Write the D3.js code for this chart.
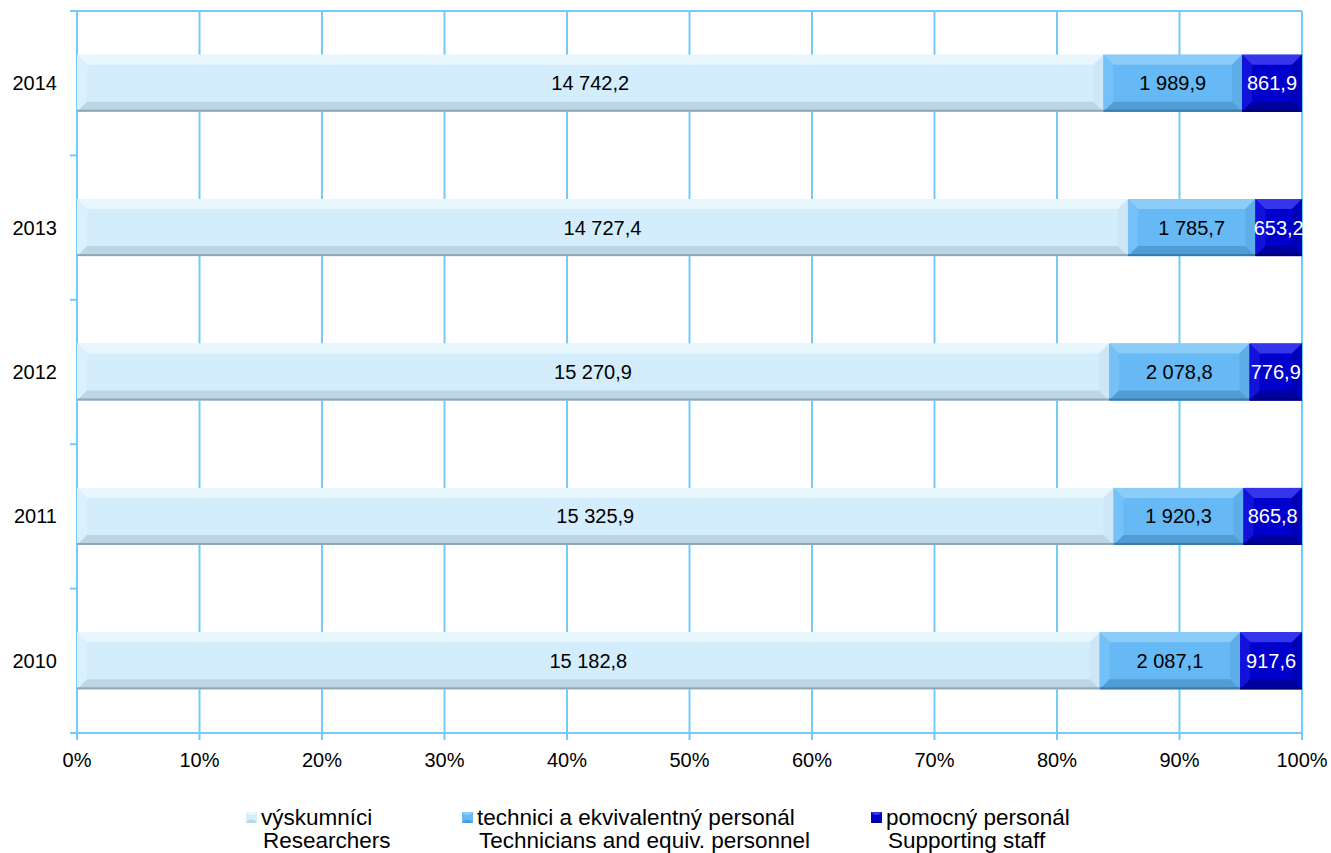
<!DOCTYPE html>
<html><head><meta charset="utf-8">
<script src="https://cdn.jsdelivr.net/npm/d3@7"></script>
<style>body{margin:0;background:#fff;}svg{display:block;font-family:"Liberation Sans",Arial,sans-serif;}</style>
</head><body><svg id="c" width="1331" height="853"></svg>
<script>
const years = ["2014","2013","2012","2011","2010"];
const researchers = [14742.2, 14727.4, 15270.9, 15325.9, 15182.8];
const technicians = [1989.9, 1785.7, 2078.8, 1920.3, 2087.1];
const supporting = [861.9, 653.2, 776.9, 865.8, 917.6];
const tickLabels = ["0%","10%","20%","30%","40%","50%","60%","70%","80%","90%","100%"];
const labelsCz = ["výskumníci","technici a ekvivalentný personál","pomocný personál"];
const labelsEn = ["Researchers","Technicians and equiv. personnel","Supporting staff"];

const series = [
  {vals: researchers, main:"#D3EDFC", top:"#E8F6FE", left:"#DAF0FD", bottom:"#BDD6E6", right:"#CDE7F6", edge:"#8FA6B5", text:"#000"},
  {vals: technicians, main:"#66B9F5", top:"#8CCCF9", left:"#74C1F7", bottom:"#509DD6", right:"#5DAEE8", edge:"#3A7AAE", text:"#000"},
  {vals: supporting, main:"#0000CC", top:"#3535EE", left:"#1212DA", bottom:"#0000A0", right:"#0000B8", edge:"#000070", text:"#fff"}
];

const svg = d3.select("#c");
const L = 77, R = 1302, T = 11, B = 733;
const x = d3.scaleLinear().domain([0,1]).range([L,R]);
const y = d3.scaleBand().domain(years).range([T,B]).paddingInner(0.605).paddingOuter(0.3025);
const yb = d3.scaleBand().domain(years).range([T,B]);
const gridColor = "#74CBFA";
const fmt = v => {
  const s = v.toFixed(1).replace(".", ",");
  const [i,d] = s.split(",");
  return i.replace(/\B(?=(\d{3})+(?!\d))/g, " ") + "," + d;
};

const g = svg.append("g");
g.selectAll("line.grid").data(d3.range(0,11)).join("line")
  .attr("x1", d=>x(d/10)).attr("x2", d=>x(d/10))
  .attr("y1", T).attr("y2", B+7)
  .attr("stroke", gridColor).attr("stroke-width", 2);
g.append("line").attr("x1", L-7).attr("x2", R).attr("y1", T).attr("y2", T).attr("stroke", gridColor).attr("stroke-width", 2);
g.append("line").attr("x1", L-7).attr("x2", R+1).attr("y1", B).attr("y2", B).attr("stroke", gridColor).attr("stroke-width", 2);
g.selectAll("line.yt").data(years.slice(1)).join("line")
  .attr("x1", L-7).attr("x2", L).attr("y1", d=>yb(d)).attr("y2", d=>yb(d))
  .attr("stroke", gridColor).attr("stroke-width", 2);

const bev = 10;
years.forEach((yr, i) => {
  const total = series.reduce((a,s)=>a+s.vals[i],0);
  let cum = 0;
  series.forEach(s => {
    const v = s.vals[i];
    const x0 = x(cum/total), x1 = x((cum+v)/total);
    cum += v;
    const y0 = y(yr), y1 = y0 + y.bandwidth();
    const bg = svg.append("g");
    const b = Math.min(bev, (x1-x0)/2);
    bg.append("rect").attr("x", x0).attr("y", y0).attr("width", x1-x0).attr("height", y1-y0).attr("fill", s.main);
    const poly = (pts, fill) => bg.append("polygon").attr("points", pts.map(p=>p.join(",")).join(" ")).attr("fill", fill);
    poly([[x0,y0],[x1,y0],[x1-b,y0+bev],[x0+b,y0+bev]], s.top);
    poly([[x0,y0],[x0+b,y0+bev],[x0+b,y1-bev],[x0,y1]], s.left);
    poly([[x1,y0],[x1,y1],[x1-b,y1-bev],[x1-b,y0+bev]], s.right);
    poly([[x0,y1],[x0+b,y1-bev],[x1-b,y1-bev],[x1,y1]], s.bottom);
    bg.append("rect").attr("x", x0).attr("y", y1-2).attr("width", x1-x0).attr("height", 2).attr("fill", s.edge);
    bg.append("text").attr("x", (x0+x1)/2).attr("y", (y0+y1)/2 + 7)
      .attr("text-anchor","middle").attr("font-size", 20).attr("fill", s.text).text(fmt(v));
  });
});

svg.selectAll("text.yl").data(years).join("text")
  .attr("x", 57).attr("y", d=>yb(d)+yb.bandwidth()/2+7)
  .attr("text-anchor","end").attr("font-size", 20).attr("fill","#000").text(d=>d);

svg.selectAll("text.xl").data(tickLabels).join("text")
  .attr("x", (d,i)=>x(i/10)).attr("y", 767)
  .attr("text-anchor","middle").attr("font-size", 20).attr("fill","#000").text(d=>d);

const legX = [246, 462, 871];
series.forEach((s,i) => {
  const lg = svg.append("g");
  const mx = legX[i], my = 812;
  lg.append("rect").attr("x", mx).attr("y", my).attr("width", 11).attr("height", 11).attr("fill", s.main);
  lg.append("polygon").attr("points", `${mx},${my} ${mx+11},${my} ${mx+8},${my+3} ${mx+3},${my+3}`).attr("fill", s.top);
  lg.append("polygon").attr("points", `${mx},${my+11} ${mx+11},${my+11} ${mx+8},${my+8} ${mx+3},${my+8}`).attr("fill", s.bottom);
  lg.append("text").attr("x", mx+15).attr("y", 825).attr("font-size", 22.5).attr("fill","#000").text(labelsCz[i]);
  lg.append("text").attr("x", mx+17).attr("y", 848).attr("font-size", 22.5).attr("fill","#000").text(labelsEn[i]);
});
</script></body></html>
